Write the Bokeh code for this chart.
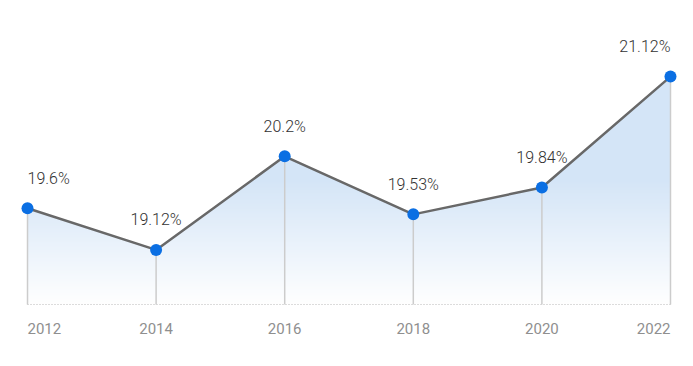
import numpy as np
from bokeh.plotting import figure
from bokeh.models import ColumnDataSource, LabelSet, Range1d
from bokeh.core.properties import value
from bokeh.embed import file_html
from bokeh.resources import INLINE

years = [2012, 2014, 2016, 2018, 2020, 2022]
values = [19.6, 19.12, 20.2, 19.53, 19.84, 21.12]
value_labels = ["19.6%", "19.12%", "20.2%", "19.53%", "19.84%", "21.12%"]
year_labels = ["2012", "2014", "2016", "2018", "2020", "2022"]

y_min = 18.49          # baseline value
y_lo, y_hi = 17.959, 21.998
x_lo, x_hi = 2011.580, 2022.109

W, H = 677, 350
p = figure(width=W, height=H, output_backend="svg", toolbar_location=None,
           x_range=Range1d(x_lo, x_hi), y_range=Range1d(y_lo, y_hi),
           min_border_left=0, min_border_right=0, min_border_top=0, min_border_bottom=0,
           background_fill_color="white", border_fill_color="white")
p.outline_line_color = None
p.grid.visible = False
p.xaxis.visible = False
p.yaxis.visible = False

n = len(years)
aligns = ["left"] + ["center"] * (n - 2) + ["right"]
src = ColumnDataSource(dict(x=years, y=values, lab=value_labels, ylab=year_labels,
                            base=[y_min] * n, align=aligns))

# gradient fill under the line: vertical gradient image, masked above the line with white
N = 400
top_rgb = np.array([212, 229, 247])
t = np.linspace(0, 1, N)[:, None]
f = np.clip(t / 0.55, 0, 1)
rgb = 255 + f * (top_rgb - 255)
img = np.zeros((N, 1), dtype=np.uint32)
view = img.view(dtype=np.uint8).reshape((N, 1, 4))
view[:, 0, 0] = rgb[:, 0]
view[:, 0, 1] = rgb[:, 1]
view[:, 0, 2] = rgb[:, 2]
view[:, 0, 3] = 255
p.image_rgba(image=[img], x=years[0], y=y_min, dw=years[-1] - years[0], dh=max(values) - y_min)
mask_x = [x_lo] + years + [x_hi]
mask_y = [values[0]] + values + [values[-1]]
p.varea(x=mask_x, y1=mask_y, y2=[y_hi] * len(mask_x), fill_color="white")

# baseline and drop lines
p.segment(x0=years[0], y0=y_min, x1=years[-1], y1=y_min, line_color="#b8b8b8",
          line_width=1, line_dash="1 2")
p.segment(x0="x", y0="base", x1="x", y1="y", source=src, line_color="#cccccc", line_width=1.5)

p.line(x="x", y="y", source=src, line_color="#686868", line_width=2.5)
p.scatter(x="x", y="y", source=src, size=12, fill_color="#0b6fe3", line_color=None)

p.add_layout(LabelSet(x="x", y="y", text="lab", source=src, y_offset=24.5,
                      text_align="align", text_baseline="alphabetic",
                      text_font=value("Roboto Light"), text_font_size=value("16px"),
                      text_color=value("#333333")))
p.add_layout(LabelSet(x="x", y="base", text="ylab", source=src, y_offset=-30,
                      text_align="align", text_baseline="alphabetic",
                      text_font=value("Roboto"), text_font_size=value("15px"),
                      text_color=value("#8f8f8f")))

open("out.html", "w").write(file_html(p, INLINE))
